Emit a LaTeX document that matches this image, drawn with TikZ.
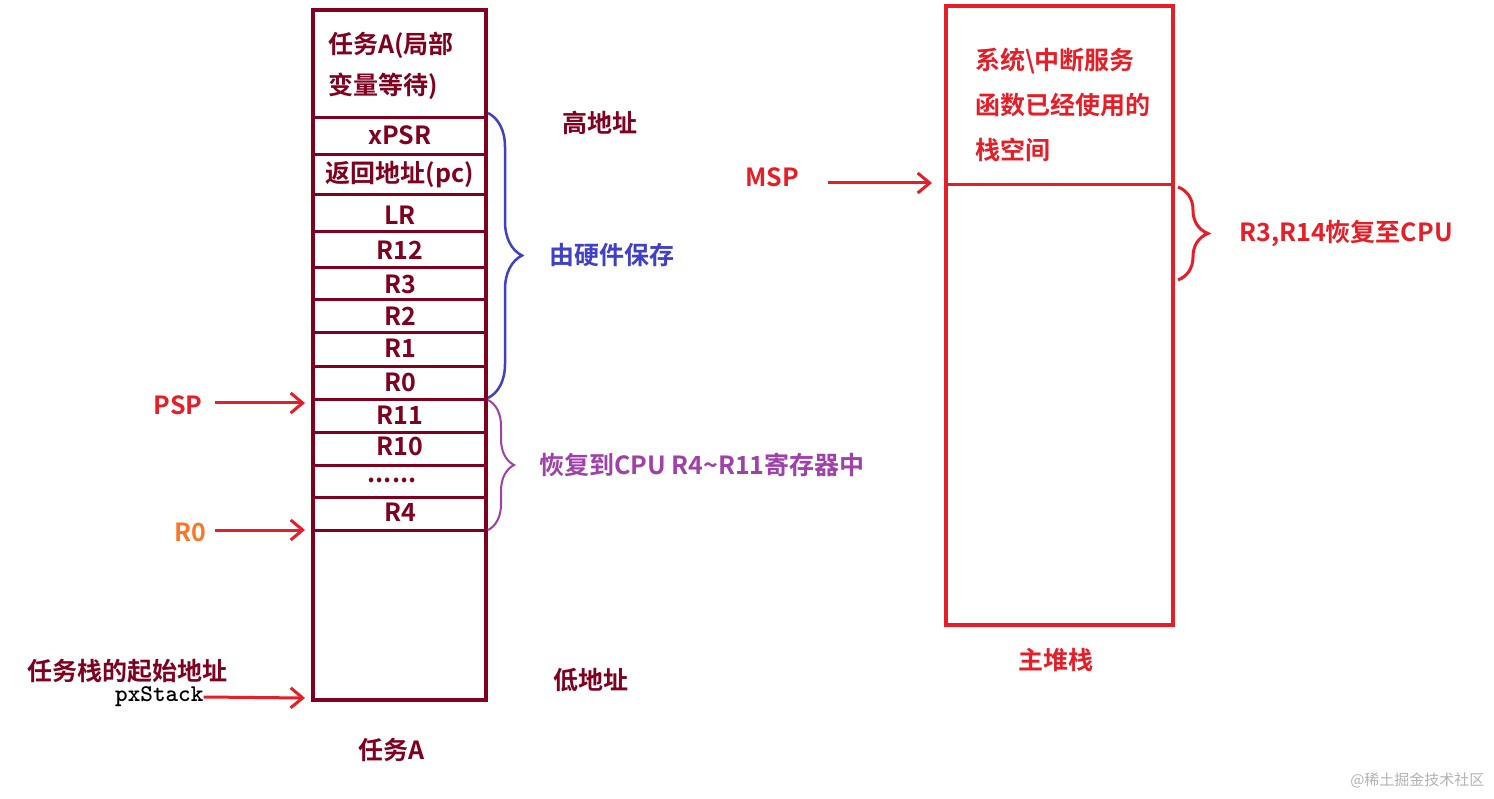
\documentclass[tikz,border=0pt]{standalone}
\usepackage{fontspec}
\setmainfont{Noto Sans CJK SC}[BoldFont={Noto Sans CJK SC Bold}]
\usetikzlibrary{decorations.pathreplacing,arrows.meta}
\definecolor{dred}{RGB}{128,0,32}
\definecolor{rred}{RGB}{230,30,40}
\definecolor{bblue}{RGB}{64,64,200}
\definecolor{ppurp}{RGB}{160,64,170}
\definecolor{oorange}{RGB}{250,120,40}
\tikzset{x=1pt,y=-1pt,
 lab/.style={font=\fontsize{25}{29}\selectfont\bfseries,inner sep=0},
 arr/.style={draw=rred,line width=3pt,-{Straight Barb[length=12pt,width=20pt]}},
 row/.style={draw=dred,line width=3pt}}
\begin{document}
\begin{tikzpicture}
\useasboundingbox (0,0) rectangle (1494,799);
% left stack
\draw[dred,line width=3.5pt] (313,10) rectangle (486,700);
\foreach \y in {118,155,195,232,268,300,333,367,400,432,465,497,530}
  \draw[row] (313,\y) -- (486,\y);
\node[lab,text=dred,align=left,anchor=north west] (top) at (328,32) {任务A(局部\\[12pt]变量等待)};
\foreach \t/\y in {xPSR/135,返回地址(pc)/175,LR/215,R12/250,R3/284,R2/316,R1/348,R0/382,R11/415,R10/446,R4/512}
  \node[lab,text=dred] at (400,\y) {\t};
\node[lab,text=dred] (dots) at (392,480) {......};
% braces
\draw[bblue,line width=2.5pt,decorate,decoration={brace,amplitude=34pt}] (488,113) -- (488,398) node[midway,right=60pt,lab,text=bblue] (hw) {由硬件保存};
\draw[ppurp,line width=2pt,decorate,decoration={brace,amplitude=26pt}] (488,400) -- (488,530) node[midway,right=50pt,lab,text=ppurp] (rc) {恢复到CPU R4\textasciitilde R11寄存器中};
% labels
\node[lab,text=dred] (hi) at (600,123) {高地址};
\node[lab,text=dred] (lo) at (591,680) {低地址};
\node[lab,text=dred] (ta) at (392,750) {任务A};
\node[lab,text=rred] (psp) at (178,405) {PSP};
\coordinate (pspE) at (305,403);
\draw[arr] (215,403) -- (pspE);
\node[lab,text=oorange] (r0) at (190,532) {R0};
\coordinate (r0E) at (305,530);
\draw[arr] (215,530) -- (r0E);
\node[lab,text=dred,anchor=west] (start) at (27,671) {任务栈的起始地址};
\node[font=\ttfamily\fontsize{24}{26}\selectfont\bfseries,anchor=west,inner sep=0] (px) at (115,697) {pxStack};
\coordinate (pxE) at (305,698);
\draw[arr] (px.east) -- (pxE);
% right stack
\draw[rred,line width=3.5pt] (946,6) rectangle (1173,625);
\draw[rred,line width=3pt] (946,185) -- (1173,185);
\node[lab,text=rred,align=left,anchor=north west] (sys) at (975,48) {系统\textbackslash 中断服务\\[16pt]函数已经使用的\\[16pt]栈空间};
\node[lab,text=rred] (msp) at (772,177) {MSP};
\coordinate (mspE) at (932,183);
\draw[arr] (828,183) -- (mspE);
\draw[rred,line width=3pt,decorate,decoration={brace,amplitude=30pt}] (1178,187) -- (1178,280) node[midway,right=60pt,lab,text=rred] (r3) {R3,R14恢复至CPU};
\node[lab,text=rred] (ms) at (1056,660) {主堆栈};
\node[font=\fontsize{15}{16}\selectfont,text=gray!60,anchor=east] (wm) at (1488,780) {@稀土掘金技术社区};
\end{tikzpicture}
\end{document}
